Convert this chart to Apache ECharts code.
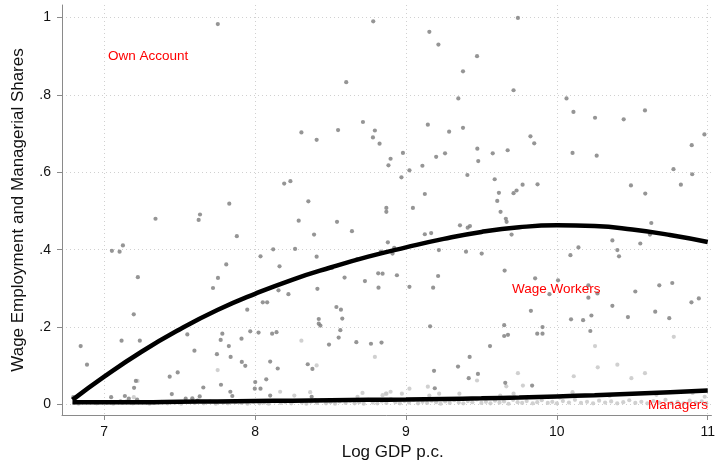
<!DOCTYPE html>
<html>
<head>
<meta charset="utf-8">
<script src="https://cdn.jsdelivr.net/npm/echarts@6/dist/echarts.min.js"></script>
<style>
html,body{margin:0;padding:0;background:#fff;}
#chart{width:718px;height:466px;}
</style>
</head>
<body>
<div id="chart"></div>
<script>
// ---- data ----
const xTicks = [7, 8, 9, 10, 11];
const yTicks = [0, 0.2, 0.4, 0.6, 0.8, 1];
const yTickLabels = ['0', '.2', '.4', '.6', '.8', '1'];

// wage employment share (dark points)
const wageX = [7.753,7.829,8.783,8.604,9.155,9.215,9.471,9.378,9.347,8.715,8.55,8.794,8.307,8.408,8.781,8.825,9.145,9.378,9.286,9.473,9.479,9.259,9.2,9.109,8.98,8.898,8.884,9.023,8.97,9.407,9.125,8.193,8.234,8.353,8.87,9.046,
9.742,9.713,10.064,10.11,10.253,10.443,10.584,10.978,10.894,10.104,10.264,9.825,9.85,9.575,9.674,9.588,9.616,9.605,9.713,9.733,9.773,9.872,10.773,10.822,10.897,10.491,10.586,
7.34,7.635,7.626,7.879,7.051,7.102,7.124,8.12,8.036,7.809,7.754,7.721,7.223,7.196,8.051,8.08,7.948,8.155,8.162,6.844,6.886,7.115,7.236,7.551,7.598,7.783,7.772,7.747,7.826,7.838,7.91,7.968,8.023,8.113,8.142,7.912,7.935,8.1,8.15,7.434,7.487,7.21,7.198,7.774,7.836,7.657,7.448,8.001,7.998,8.036,8.074,8.1,7.046,7.137,7.108,7.163,7.218,7.54,7.584,7.619,7.633,6.795,
8.87,8.289,8.543,8.391,8.642,8.265,8.408,8.51,8.677,8.88,8.834,8.911,8.922,9.218,9.125,9.167,9.358,9.409,9.424,9.398,8.593,8.728,8.816,8.845,8.94,8.818,9.023,9.18,9.213,8.221,8.413,8.539,8.569,8.422,8.578,8.422,8.433,8.565,8.554,8.49,8.671,8.768,8.838,9.16,8.349,8.38,9.422,9.345,9.186,9.416,9.477,9.191,
9.627,9.662,9.667,9.7,10.626,10.617,10.553,10.368,10.401,10.412,10.143,10.09,9.502,9.654,9.856,10.008,9.951,10.209,10.209,10.269,10.52,10.679,10.765,10.941,10.892,10.368,10.652,10.471,10.745,9.828,10.094,10.174,10.229,10.222,9.651,9.651,9.676,9.905,9.87,9.905,9.557,9.658,9.836,
7.849,8.375,8.398];
const wageY = [0.983,0.519,0.990,0.833,0.963,0.930,0.900,0.861,0.791,0.730,0.709,0.708,0.703,0.684,0.690,0.674,0.723,0.715,0.705,0.661,0.629,0.649,0.640,0.617,0.650,0.635,0.618,0.605,0.587,0.593,0.544,0.571,0.577,0.525,0.508,0.508,
0.999,0.812,0.791,0.756,0.741,0.737,0.760,0.698,0.670,0.650,0.643,0.693,0.675,0.649,0.657,0.582,0.547,0.526,0.546,0.553,0.568,0.569,0.608,0.568,0.595,0.566,0.545,
0.480,0.491,0.477,0.435,0.397,0.395,0.411,0.401,0.383,0.362,0.327,0.301,0.329,0.233,0.264,0.264,0.245,0.295,0.357,0.151,0.103,0.165,0.165,0.181,0.139,0.183,0.167,0.130,0.151,0.123,0.170,0.189,0.186,0.183,0.187,0.110,0.100,0.111,0.093,0.072,0.083,0.061,0.043,0.051,0.033,0.044,0.027,0.058,0.041,0.041,0.065,0.023,0.019,0.022,0.008,0.015,0.013,0.015,0.016,0.010,0.021,0.019,
0.498,0.475,0.472,0.439,0.448,0.402,0.382,0.353,0.376,0.419,0.395,0.390,0.405,0.399,0.440,0.443,0.463,0.457,0.461,0.395,0.328,0.319,0.339,0.338,0.334,0.302,0.304,0.302,0.332,0.285,0.299,0.252,0.245,0.221,0.222,0.209,0.204,0.192,0.173,0.155,0.161,0.157,0.160,0.202,0.104,0.092,0.123,0.098,0.087,0.068,0.079,0.042,
0.498,0.480,0.472,0.439,0.469,0.439,0.416,0.424,0.399,0.383,0.406,0.386,0.390,0.346,0.326,0.321,0.285,0.308,0.276,0.287,0.292,0.308,0.314,0.274,0.264,0.255,0.240,0.226,0.223,0.242,0.220,0.218,0.230,0.190,0.205,0.177,0.180,0.200,0.183,0.183,0.151,0.056,0.049,
0.022,0.020,0.011];

// managerial share (light points)
const mgrX = [8.307,8.794,7.752,7.221,7.196,9.471,9.742,9.775,10.253,10.271,10.401,10.112,10.494,10.584,10.775,8.166,8.26,8.365,8.712,8.867,8.898,8.973,9.023,9.145,9.22,9.354,8.679,8.845,8.871,9.665,9.625,9.713,9.155,10.104,8.408,
9.72,10.02,10.35,10.66,10.9,10.98,
6.80,6.83,6.90,6.95,7.02,7.06,7.12,7.15,7.19,7.25,7.30,7.33,7.38,7.42,7.47,7.51,7.56,7.60,7.66,7.70,7.74,7.79,7.82,7.87,7.91,7.95,7.99,8.03,8.06,8.09,8.13,8.17,8.20,8.24,8.27,8.31,8.34,8.37,8.41,8.44,8.47,8.50,8.53,8.56,8.60,8.63,8.66,8.69,8.72,8.75,8.78,8.81,8.84,8.87,8.90,8.93,8.96,8.99,9.02,9.05,9.08,9.11,9.14,9.17,9.20,9.23,9.26,9.29,9.32,9.35,9.38,9.41,9.44,9.47,9.50,9.53,9.56,9.59,9.62,9.65,9.68,9.71,9.74,9.77,9.80,9.84,9.87,9.90,9.94,9.97,10.00,10.04,10.08,10.12,10.16,10.20,10.24,10.28,10.32,10.36,10.40,10.44,10.48,10.52,10.56,10.60,10.64,10.68,10.72,10.76,10.80,10.84,10.88,10.92,10.96,10.99];
const mgrY = [0.165,0.123,0.089,0.061,0.019,0.062,0.081,0.049,0.151,0.096,0.103,0.073,0.068,0.081,0.175,0.033,0.023,0.032,0.030,0.028,0.033,0.028,0.041,0.046,0.028,0.028,0.020,0.024,0.028,0.047,0.023,0.028,0.023,0.032,0.101,
0.020,0.018,0.022,0.025,0.030,0.020,
0.004,0.002,0.006,0.003,0.005,0.002,0.004,0.009,0.003,0.006,0.002,0.004,0.007,0.003,0.005,0.002,0.006,0.004,0.003,0.008,0.002,0.005,0.003,0.006,0.004,0.002,0.007,0.003,0.005,0.002,0.008,0.004,0.006,0.003,0.009,0.005,0.002,0.007,0.004,0.011,0.003,0.006,0.002,0.008,0.004,0.010,0.003,0.006,0.002,0.012,0.005,0.003,0.008,0.004,0.014,0.006,0.003,0.009,0.005,0.012,0.003,0.007,0.004,0.010,0.006,0.002,0.008,0.004,0.011,0.005,0.003,0.009,0.006,0.013,0.004,0.007,0.003,0.010,0.005,0.008,0.002,0.012,0.006,0.004,0.009,0.003,0.006,0.011,0.004,0.007,0.003,0.009,0.005,0.012,0.004,0.007,0.003,0.010,0.005,0.008,0.003,0.006,0.011,0.004,0.007,0.003,0.009,0.005,0.012,0.004,0.007,0.003,0.010,0.005,0.008,0.003];

// fitted curves
const fitX    = [6.79, 7.0, 7.25, 7.5, 7.75, 8.0, 8.25, 8.5, 8.75, 9.0, 9.25, 9.5, 9.75, 10.0, 10.25, 10.5, 10.75, 11.0];
const wageFit = [0.012,0.072,0.137,0.194,0.244,0.286,0.323,0.354,0.382,0.406,0.428,0.446,0.458,0.463,0.461,0.452,0.438,0.420];
const mgrFit  = [0.006,0.006,0.006,0.007,0.008,0.009,0.010,0.011,0.012,0.013,0.0145,0.016,0.018,0.021,0.024,0.028,0.032,0.036];

const textLabels = ['Own Account', 'Wage Workers', 'Managers'];

function pairs(xs, ys){ return xs.map((x,i)=>[x, ys[i]]); }

const chart = echarts.init(document.getElementById('chart'), null, {renderer:'canvas'});
const FONT = '"Liberation Sans", Arial, Helvetica, sans-serif';

chart.setOption({
  animation: false,
  backgroundColor: '#ffffff',
  grid: { left: 62, right: 5, top: 5, bottom: 51, containLabel: false },
  xAxis: {
    type: 'value', min: 6.7203, max: 11.0245,
    name: 'Log GDP p.c.', nameLocation: 'middle', nameGap: 28,
    nameTextStyle: { fontFamily: FONT, fontSize: 17, color: '#111', padding: [0, 0, 0, 12] },
    axisLine: { show: true, onZero: false, lineStyle: { color: '#8a8a8a', width: 1 } },
    axisTick: { show: true, length: 5, inside: false, customValues: xTicks, lineStyle: { color: '#8a8a8a' } },
    axisLabel: { customValues: xTicks, margin: 10, fontFamily: FONT, fontSize: 14, color: '#111' },
    splitLine: { show: true, lineStyle: { color: '#d0d0d0', type: [1, 3], width: 1 } }
  },
  yAxis: {
    type: 'value', min: -0.0271, max: 1.0323,
    name: 'Wage Employment and Managerial Shares', nameLocation: 'middle', nameGap: 35,
    nameRotate: 90,
    nameTextStyle: { fontFamily: FONT, fontSize: 17, color: '#111' },
    axisLine: { show: true, onZero: false, lineStyle: { color: '#8a8a8a', width: 1 } },
    axisTick: { show: true, length: 5, inside: false, customValues: yTicks, lineStyle: { color: '#8a8a8a' } },
    axisLabel: { customValues: yTicks, margin: 11, fontFamily: FONT, fontSize: 14, color: '#111',
      formatter: function(v){ const i = yTicks.findIndex(t => Math.abs(t - v) < 1e-6); return i >= 0 ? yTickLabels[i] : ''; } },
    splitLine: { show: true, lineStyle: { color: '#d0d0d0', type: [1, 3], width: 1 } }
  },
  series: [
    { type: 'scatter', data: pairs(mgrX, mgrY), symbolSize: 4.2,
      itemStyle: { color: '#c4c4c4' }, z: 2 },
    { type: 'scatter', data: pairs(wageX, wageY), symbolSize: 4.2,
      itemStyle: { color: '#7a7a7a' }, z: 3 },
    { type: 'line', data: pairs(fitX, wageFit), smooth: true, showSymbol: false, symbol: 'none',
      lineStyle: { color: '#000', width: 4.5, cap: 'butt' }, z: 5 },
    { type: 'line', data: pairs(fitX, mgrFit), smooth: true, showSymbol: false, symbol: 'none',
      lineStyle: { color: '#000', width: 4.5, cap: 'butt' }, z: 5 }
  ],
  graphic: [
    { type: 'text', left: 108, top: 49, z: 10,
      style: { text: textLabels[0], fill: '#ff0000', font: '13.5px ' + FONT } },
    { type: 'text', left: 512, top: 282, z: 10,
      style: { text: textLabels[1], fill: '#ff0000', font: '13.5px ' + FONT } },
    { type: 'text', left: 648, top: 398, z: 10,
      style: { text: textLabels[2], fill: '#ff0000', font: '13.5px ' + FONT } }
  ]
});
</script>
</body>
</html>
